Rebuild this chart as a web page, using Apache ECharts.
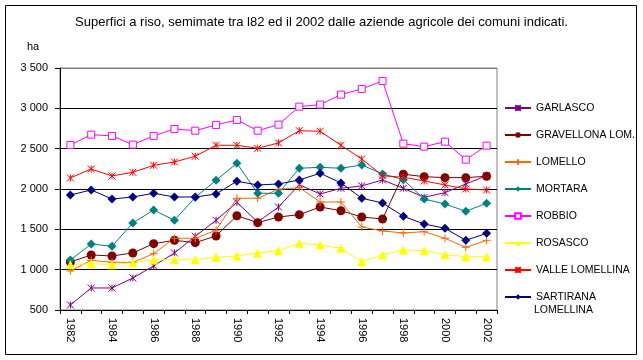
<!DOCTYPE html>
<html>
<head>
<meta charset="utf-8">
<script src="https://cdn.jsdelivr.net/npm/echarts@6/dist/echarts.min.js"></script>
<style>html,body{margin:0;padding:0;background:#fff}#c{width:643px;height:360px}</style>
</head>
<body>
<div id="c"></div>
<script>
const years = ['1982','1983','1984','1985','1986','1987','1988','1989','1990','1991','1992','1993','1994','1995','1996','1997','1998','1999','2000','2001','2002'];
const garlasco   = [562,773,773,897,1046,1207,1414,1612,1835,1591,1777,2054,1938,2009,2038,2112,2009,1897,1955,2062,2165];
const gravellona = [1095,1182,1170,1207,1322,1364,1335,1418,1669,1583,1653,1682,1777,1731,1653,1628,2183,2153,2141,2141,2158];
const lomello    = [984,1116,1091,1091,1198,1389,1389,1488,1885,1885,1997,2017,1839,1839,1529,1480,1455,1471,1389,1277,1364];
const mortara    = [1120,1318,1290,1579,1740,1612,1897,2108,2319,1947,1947,2257,2269,2257,2298,2186,2116,1876,1814,1724,1823];
const robbio     = [2546,2674,2658,2550,2658,2744,2723,2794,2856,2723,2798,3021,3046,3170,3240,3340,2562,2525,2587,2364,2537];
const rosasco    = [1062,1074,1062,1087,1120,1124,1124,1153,1170,1207,1235,1327,1306,1265,1099,1186,1244,1235,1186,1161,1161];
const valle      = [2137,2248,2162,2207,2294,2335,2406,2542,2542,2505,2571,2723,2716,2542,2372,2165,2145,2100,2050,2000,1988];
const sartirana  = [1926,1988,1876,1901,1947,1901,1901,1938,2096,2050,2062,2112,2195,2075,1885,1827,1662,1566,1513,1364,1451];
const yTicks = [500,1000,1500,2000,2500,3000,3500];

const STAR = 'path://M0,0L10,10M10,0L0,10M5,0L5,10';
const PLUS = 'path://M5,0L5,10M0,5L10,5';
const FONT = 'Liberation Sans, Arial';

function mk(name, data, color, symbol, size, opts) {
  opts = opts || {};
  const stroke = (symbol === STAR || symbol === PLUS || opts.hollow);
  return {
    name: name, type: 'line', data: data,
    symbol: symbol, symbolSize: size,
    showSymbol: true,
    lineStyle: {color: color, width: 1},
    itemStyle: stroke ? {color: opts.hollow ? '#fff' : 'none', borderColor: color, borderWidth: 1} : {color: color, borderColor: color, borderWidth: 0},
    emphasis: {disabled: true},
    animation: false
  };
}

const chart = echarts.init(document.getElementById('c'), null, {renderer: 'canvas'});
chart.setOption({
  backgroundColor: '#fff',
  animation: false,
  title: [
    {text: 'Superfici a riso, semimate tra l82 ed il 2002 dalle aziende agricole dei comuni indicati.', left: 'center', top: 16, padding: 0,
     textStyle: {fontFamily: FONT, fontSize: 13, fontWeight: 'normal', color: '#000'}},
    {text: 'ha', left: 27, top: 41, padding: 0, textStyle: {fontFamily: FONT, fontSize: 11, fontWeight: 'normal', color: '#000'}}
  ],
  graphic: [
    {type: 'rect', shape: {x: 5.5, y: 5.5, width: 631, height: 349}, style: {fill: 'none', stroke: '#000', lineWidth: 1}, silent: true},
    {type: 'text', left: 534, top: 305, style: {text: 'LOMELLINA', fontFamily: FONT, fontSize: 10.5, fill: '#000'}, silent: true}
  ],
  grid: {left: 60, right: 146, top: 68, bottom: 50, show: true, borderColor: '#808080', borderWidth: 1, backgroundColor: '#fff'},
  legend: {
    orient: 'vertical', left: 504, top: 101, padding: 0, itemWidth: 26, itemHeight: 7, itemGap: 13,
    textStyle: {fontFamily: FONT, fontSize: 10.5, color: '#000', lineHeight: 14},
    formatter: function (n) { return n === 'SARTIRANA LOMELLINA' ? 'SARTIRANA' : n; },
    data: ['GARLASCO','GRAVELLONA LOM.','LOMELLO','MORTARA','ROBBIO','ROSASCO','VALLE LOMELLINA','SARTIRANA LOMELLINA']
  },
  xAxis: {
    type: 'category', data: years, boundaryGap: true,
    axisLine: {lineStyle: {color: '#000', width: 1}},
    axisTick: {show: true, interval: 0, length: 4, lineStyle: {color: '#000'}},
    axisLabel: {interval: 1, rotate: -90, margin: 8, color: '#000', fontFamily: FONT, fontSize: 11},
    splitLine: {show: false}
  },
  yAxis: {
    type: 'value', min: yTicks[0], max: yTicks[yTicks.length - 1], interval: 500,
    axisLine: {show: true, lineStyle: {color: '#000', width: 1}},
    axisTick: {show: true, length: 5, lineStyle: {color: '#000'}},
    axisLabel: {color: '#000', fontFamily: FONT, fontSize: 11, margin: 12,
      formatter: function (v) { return v >= 1000 ? Math.floor(v / 1000) + ' ' + String(v % 1000).padStart(3, '0') : String(v); }},
    splitLine: {show: true, lineStyle: {color: ['#000','#000','#000','#000','#000','#000','#808080'], width: 1}}
  },
  series: [
    mk('GARLASCO', garlasco, '#800080', STAR, 7),
    mk('GRAVELLONA LOM.', gravellona, '#800000', 'circle', 9),
    mk('LOMELLO', lomello, '#FF6600', PLUS, 8),
    mk('MORTARA', mortara, '#008080', 'diamond', 9),
    mk('ROBBIO', robbio, '#FF00FF', 'rect', 7, {hollow: true}),
    mk('ROSASCO', rosasco, '#FFFF00', 'triangle', 9),
    mk('VALLE LOMELLINA', valle, '#FF0000', STAR, 7),
    mk('SARTIRANA LOMELLINA', sartirana, '#000080', 'diamond', 9)
  ]
});
</script>
</body>
</html>
